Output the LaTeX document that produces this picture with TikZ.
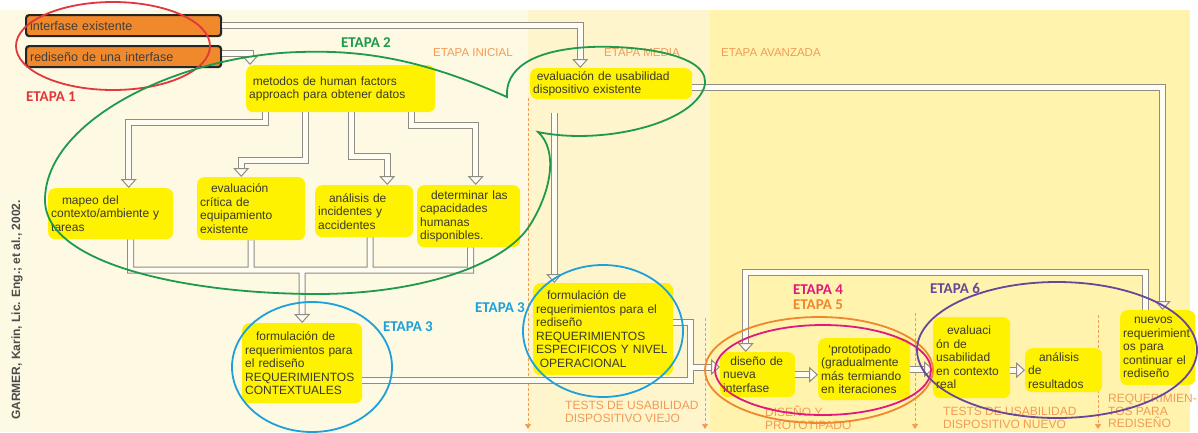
\documentclass[tikz,border=0pt]{standalone}
\usepackage{fontspec}
\setmainfont{Liberation Sans}
\newfontfamily\etapafont{Carlito}
\usetikzlibrary{arrows.meta}

\definecolor{fondoA}{HTML}{FEF9E2}
\definecolor{fondoB}{HTML}{FEF5CC}
\definecolor{fondoC}{HTML}{FFF3AE}
\definecolor{amarillo}{HTML}{FFF200}
\definecolor{naranja}{HTML}{F0882C}
\definecolor{tubogris}{HTML}{8E8C84}
\definecolor{tuboin}{HTML}{FFFDF2}
\definecolor{guiacol}{HTML}{F29B57}
\definecolor{textocaja}{HTML}{3A3A30}
\definecolor{rojo}{HTML}{E2373C}
\definecolor{verde}{HTML}{1D9A4C}
\definecolor{azul}{HTML}{1EA0DA}
\definecolor{rosa}{HTML}{E0197D}
\definecolor{naranjaE}{HTML}{F0872E}
\definecolor{morado}{HTML}{66479A}

\begin{document}
\begin{tikzpicture}[x=1pt,y=-1pt,
  caja/.style={fill=amarillo, rounded corners=7pt, anchor=north west, align=left,
    inner sep=3pt, text=textocaja, font=\fontsize{12}{13.5}\selectfont},
  entrada/.style={fill=naranja, draw=black!85, line width=2.2pt, rounded corners=3pt,
    anchor=north west, minimum width=195pt, minimum height=21pt, text width=187pt,
    inner sep=3pt, align=left, text=black!75, font=\fontsize{12.5}{14}\selectfont},
  tubo/.style={draw=tubogris, line width=1pt, double=tuboin, double distance=5pt,
    -{Triangle[open, fill=tuboin, width=16pt, length=9pt, line width=1pt]}},
  guia/.style={draw=guiacol, dash pattern=on 3pt off 2pt, line width=0.7pt,
    -{Triangle[width=6pt, length=5pt]}},
  fase/.style={text=guiacol, font=\fontsize{11.5}{13}\selectfont, anchor=west, inner sep=0pt},
  prueba/.style={text=guiacol, font=\fontsize{12}{12.5}\selectfont, anchor=north west,
    align=left, inner sep=0pt},
  etapa/.style={font=\etapafont\bfseries\fontsize{15}{15}\selectfont, inner sep=0pt},
  aro/.style={line width=1.8pt}]

  % 背景
  \useasboundingbox (0,0) rectangle (1198,432);
  \fill[white] (0,0) rectangle (1198,432);
  \fill[fondoA] (0,10) rectangle (528,432);
  \fill[fondoB] (528,10) rectangle (710,432);
  \fill[fondoC] (710,10) rectangle (1190,432);

  % 段階の名前
  \node[fase] (fini) at (433,53) {ETAPA INICIAL};
  \node[fase] (fmed) at (604,53) {ETAPA MEDIA};
  \node[fase] (fava) at (721,53) {ETAPA AVANZADA};

  % 出典
  \node[rotate=90, text=black!70, font=\bfseries\fontsize{12}{14}\selectfont] (fuente)
    at (17,310) {GARMER, Karin, Lic. Eng.; et al., 2002.};

  % 案内線
  \foreach \gx/\gy in {528/98, 705/318, 915/313, 1098/315}
    \draw[guia] (\gx,\gy) -- (\gx,429);

  % 入口
  \node[entrada] (ent1) at (25,14) {interfase existente};
  \node[entrada] (ent2) at (25,45) {rediseño de una interfase};

  % 箱
  \node[caja, text width=183pt, minimum height=47pt] (mhf) at (246,65)
    {\hspace*{0.3em}metodos de human factors\\approach para obtener datos};
  \node[caja, text width=156pt, minimum height=30pt] (evalex) at (530,68)
    {\hspace*{0.3em}evaluación de usabilidad\\dispositivo existente};
  \node[caja, text width=119pt, minimum height=51pt] (mapeo) at (48,188)
    {\hspace*{0.9em}mapeo del\\contexto/ambiente y\\tareas};
  \node[caja, text width=102pt, minimum height=63pt] (critica) at (197,177)
    {\hspace*{0.9em}evaluación\\crítica de\\equipamiento\\existente};
  \node[caja, text width=92pt, minimum height=52pt] (incid) at (315,185)
    {\hspace*{0.9em}análisis de\\incidentes y\\accidentes};
  \node[caja, text width=97pt, minimum height=62pt] (capac) at (417,185)
    {\hspace*{0.9em}determinar las\\capacidades\\humanas\\disponibles.};
  \node[caja, text width=114pt, minimum height=80pt] (formctx) at (242,323)
    {\hspace*{0.9em}formulación de\\requerimientos para\\el rediseño\\REQUERIMIENTOS\\CONTEXTUALES};
  \node[caja, text width=134pt, minimum height=92pt] (formesp) at (533,283)
    {\hspace*{0.9em}formulación de\\requerimientos para el\\rediseño\\REQUERIMIENTOS\\ESPECIFICOS Y NIVEL\\\hspace*{0.3em}OPERACIONAL};
  \node[caja, text width=69pt, minimum height=45pt] (diseno) at (720,352)
    {\hspace*{0.6em}diseño de\\nueva\\interfase};
  \node[caja, text width=86pt, minimum height=62pt] (proto) at (818,338)
    {\hspace*{0.6em}`prototipado\\(gradualmente\\más termiando\\en iteraciones};
  \node[caja, text width=71pt, minimum height=81pt] (evalreal) at (933,317)
    {\hspace*{0.9em}evaluaci\\ón de\\usabilidad\\en contexto\\real};
  \node[caja, text width=71pt, minimum height=44pt] (result) at (1025,348)
    {\hspace*{0.9em}análisis\\de\\resultados};
  \node[caja, text width=69pt, minimum height=75pt] (nuevos) at (1120,310)
    {\hspace*{0.9em}nuevos\\requerimient\\os para\\continuar el\\rediseño};

  % 管
  \draw[tubo] (ent1.east) -| ([xshift=-31pt]evalex.north);
  \draw[tubo] ([yshift=3pt]ent2.east) -| ([xshift=4pt]mhf.north west);
  \draw[tubo] ([xshift=19pt]mhf.south west) -- ++(0,10) -| ([xshift=18pt]mapeo.north);
  \draw[tubo] ([xshift=59pt]mhf.south west) -- ++(0,48) -| ([xshift=-10pt]critica.north);
  \draw[tubo] ([xshift=105pt]mhf.south west) -- ++(0,44) -| ([xshift=23pt]incid.north);
  \draw[tubo] ([xshift=165pt]mhf.south west) -- ++(0,13) -| ([xshift=7pt]capac.north);

  \coordinate (union) at (302,270);
  \draw[tubo] ([xshift=20pt]mapeo.south) |- (union)
    ([xshift=2pt]capac.south) |- (union)
    (critica.south) |- (union)
    ([xshift=6pt]incid.south) |- (union)
    (union) -- (formctx.north);

  \draw[tubo, shorten <=14pt] ([xshift=-57pt]evalex.south) -- ([xshift=-49pt]formesp.north);
  \draw[tubo] ([yshift=-4pt]evalex.east) -| ([xshift=5pt]nuevos.north);
  \draw[tubo] ([xshift=-12pt]nuevos.north) -- ++(0,-38) -| ([xshift=-12pt]diseno.north);

  \coordinate (cruce) at (690,367);
  \draw[tubo] ([yshift=7pt]formesp.east) -| (cruce)
    ([yshift=-17pt]formctx.east) -| (cruce) -- (diseno.west |- cruce);

  \draw[tubo] (diseno.east) -- (diseno.east -| proto.west);
  \draw[tubo] (proto.east) -- (proto.east -| evalreal.west);
  \draw[tubo] (result.west -| evalreal.east) -- (result.west);

  % 下の説明
  \node[prueba] (tviejo) at (565,401) {TESTS DE USABILIDAD\\DISPOSITIVO VIEJO};
  \node[prueba] (tdis) at (765,406) {DISEÑO Y\\PROTOTIPADO};
  \node[prueba] (tnuevo) at (943,407) {TESTS DE USABILIDAD\\DISPOSITIVO NUEVO};
  \node[prueba] (treq) at (1108,394) {REQUERIMIEN-\\TOS PARA\\REDISEÑO};

  % 輪とETAPA
  \draw[rojo, aro] (113,46) ellipse [x radius=97, y radius=44];
  \node[etapa, text=rojo] (e1) at (51,97) {ETAPA 1};

  \draw[verde, aro] (507,97) .. controls (420,58) and (360,50) .. (300,52)
    .. controls (180,55) and (45,120) .. (45,200)
    .. controls (45,265) and (190,294) .. (317,294)
    .. controls (420,294) and (505,265) .. (530,225)
    .. controls (552,190) and (558,150) .. (538,132)
    .. controls (600,145) and (690,125) .. (704,88)
    .. controls (715,55) and (640,45) .. (590,47)
    .. controls (530,50) and (505,70) .. (507,97) -- cycle;
  \node[etapa, text=verde] (e2) at (366,43) {ETAPA 2};

  \draw[azul, aro] (312,367) ellipse [x radius=80, y radius=65];
  \node[etapa, text=azul] (e3a) at (408,327) {ETAPA 3};
  \draw[azul, aro] (603,331) ellipse [x radius=80, y radius=66];
  \node[etapa, text=azul] (e3b) at (500,308) {ETAPA 3};

  \draw[naranjaE, aro] (819,370) ellipse [x radius=114, y radius=53];
  \draw[rosa, aro] (823,370) ellipse [x radius=108, y radius=45];
  \node[etapa, text=rosa] (e4) at (818,290) {ETAPA 4};
  \node[etapa, text=naranjaE] (e5) at (818,305) {ETAPA 5};

  \draw[morado, aro] (1057,350) ellipse [x radius=140, y radius=68];
  \node[etapa, text=morado] (e6) at (955,288) {ETAPA 6};

\end{tikzpicture}
\end{document}
